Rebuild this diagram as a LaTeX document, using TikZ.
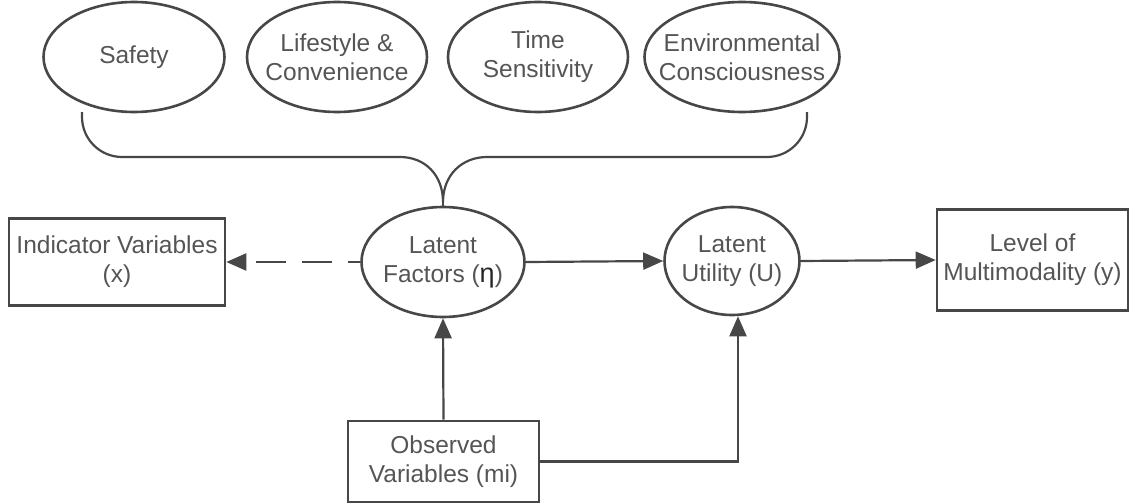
\documentclass[tikz,border=0pt]{standalone}
\usepackage{fontspec}
\setmainfont{Liberation Sans}
\usetikzlibrary{shapes.geometric,arrows.meta}
\definecolor{txtgray}{HTML}{555555}
\definecolor{linegray}{HTML}{474747}
\begin{document}
\begin{tikzpicture}[x=1pt,y=-1pt,
  txt/.style={text=txtgray, font=\fontsize{24.5}{29}\selectfont, align=center, inner sep=0pt},
  every node/.style={txt},
  ell/.style={draw=linegray, line width=2.6pt, ellipse, inner sep=0pt},
  boxnode/.style={draw=linegray, line width=2.6pt, rectangle},
  conn/.style={draw=linegray, line width=2.2pt},
  arr/.style={conn, -{Triangle[length=20pt,width=17pt]}},
]
\useasboundingbox (0,0) rectangle (1136,503);
% top ellipses
\node[ell, minimum width=181pt, minimum height=110pt, label={[txt]center:Safety}] (safety) at (134,57) {};
\node[ell, minimum width=180pt, minimum height=110pt, label={[txt]center:{Lifestyle \&\\Convenience}}] (life) at (337,57) {};
\node[ell, minimum width=180pt, minimum height=110pt, label={[txt]center:{Time\\Sensitivity}}] (time) at (538,57) {};
\node[ell, minimum width=195pt, minimum height=110pt, label={[txt]center:{Environmental\\Consciousness}}] (env) at (742,57) {};
% middle row
\node[boxnode, minimum width=216pt, minimum height=87pt] (ind) at (117,262) {Indicator Variables\\(x)};
\node[ell, minimum width=163pt, minimum height=110pt, label={[txt]center:{Latent\\Factors ({\fontsize{27}{29}\selectfont\color{black!85}η})}}] (lf) at (443,262) {};
\node[ell, minimum width=135pt, minimum height=108pt, label={[txt]center:{Latent\\Utility (U)}}] (lu) at (732,261) {};
\node[boxnode, minimum width=191pt, minimum height=101pt] (lvl) at (1032.5,260) {Level of\\Multimodality (y)};
% bottom
\node[boxnode, minimum width=191pt, minimum height=81pt] (obs) at (443.5,461.5) {Observed\\Variables (mi)};
% brace
\coordinate (bl) at (82,112);
\coordinate (br) at (807,112);
\coordinate (tip) at (443,202);
\draw[conn] (bl) -- (82,117) .. controls (82,139) and (100,157) .. (122,157)
  -- (400,157) .. controls (425,157) and (443,175) .. (tip)
  .. controls (443,175) and (462,157) .. (487,157)
  -- (767,157) .. controls (789,157) and (807,139) .. (807,117) -- (br);
\draw[conn] (tip) -- (lf.north);
% connectors
\draw[arr, dash pattern=on 30pt off 16pt, dash phase=18pt] (lf.west) -- (ind.east);
\draw[arr] (lf.east) -- (lu.west);
\draw[arr] (lu.east) -- (lvl.west);
\draw[arr] (obs.north) -- (lf.south);
\draw[arr] (obs.east) -| ([xshift=6pt]lu.south);
\end{tikzpicture}
\end{document}
